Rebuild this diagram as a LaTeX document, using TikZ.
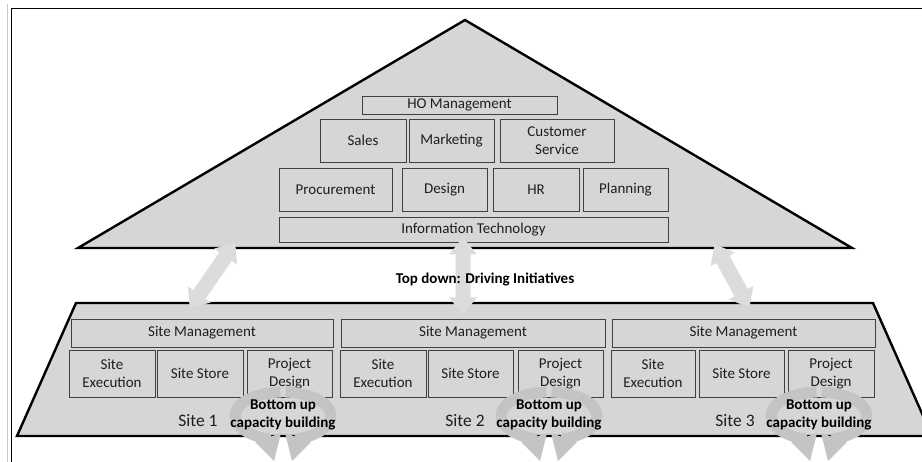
\documentclass[tikz,border=0pt]{standalone}
\usepackage{fontspec}
\setmainfont{Carlito}
\usetikzlibrary{arrows.meta}

\definecolor{shapefill}{HTML}{D6D6D6}
\definecolor{boxline}{HTML}{404040}
\definecolor{blockarrow}{HTML}{DCDCDC}
\definecolor{cyclearrow}{HTML}{C4C4C4}
\definecolor{textcol}{HTML}{1E1E1E}
\definecolor{edgegrey}{HTML}{C8C8C8}

\tikzset{
  unit/.style={draw=boxline, fill=shapefill, line width=0.9pt, inner sep=0pt,
    align=center, text=textcol, font=\fontsize{15}{18.5}\selectfont},
  outline/.style={draw=black, fill=shapefill, line width=2.4pt},
  linkarrow/.style={fill=blockarrow, draw=none},
  cyclearc/.style={draw=cyclearrow, line width=11pt},
  cyclehead/.style={fill=cyclearrow, draw=none},
  boldlabel/.style={font=\bfseries\fontsize{15}{18}\selectfont, align=center, text=black, inner sep=0pt},
  sitelabel/.style={font=\fontsize{17.5}{20}\selectfont, text=textcol, inner sep=0pt},
}

\begin{document}
\begin{tikzpicture}[x=1pt, y=-1pt]
  \useasboundingbox (0,0) rectangle (922,462);
  \clip (0,0) rectangle (922,462);

  % page frame
  \draw[edgegrey, line width=1.5pt] (7.5,4) -- (7.5,470);
  \draw[black, line width=1.3pt] (11.5,470) -- (11.5,8.5) -- (930,8.5);

  % head office pyramid and site platform
  \draw[outline] (465,20) -- (852,248) -- (78,248) -- cycle;
  \draw[outline] (76,303) -- (873,303) -- (932,436) -- (17,436) -- cycle;

  % head office units
  \node[unit, minimum width=195, minimum height=18] (ho) at (459.5,105) {HO Management};
  \node[unit, minimum width=86, minimum height=43] (sales) at (363,140.5) {Sales};
  \node[unit, minimum width=85, minimum height=43] (mkt) at (451.5,140.5) {Marketing};
  \node[unit, minimum width=114, minimum height=43] (cs) at (557,140.5) {Customer\\Service};
  \node[unit, minimum width=113, minimum height=43] (proc) at (335.5,189.5) {Procurement};
  \node[unit, minimum width=85, minimum height=43] (des) at (444.5,189.5) {Design};
  \node[unit, minimum width=86, minimum height=43] (hr) at (536,189.5) {HR};
  \node[unit, minimum width=85, minimum height=43] (plan) at (625.5,189.5) {Planning};
  \node[unit, minimum width=389, minimum height=25] (it) at (473.5,229.5) {Information Technology};

  % site units
  \node[unit, minimum width=262, minimum height=28] (sm1) at (202,333) {Site Management};
  \node[unit, minimum width=86, minimum height=47] (se1) at (112,373.5) {Site\\Execution};
  \node[unit, minimum width=86, minimum height=47] (ss1) at (200,373.5) {Site Store};
  \node[unit, minimum width=85, minimum height=47] (pd1) at (289.5,373.5) {Project\\Design};

  \node[unit, minimum width=264, minimum height=28] (sm2) at (473,333) {Site Management};
  \node[unit, minimum width=86, minimum height=47] (se2) at (383,373.5) {Site\\Execution};
  \node[unit, minimum width=85, minimum height=47] (ss2) at (470.5,373.5) {Site Store};
  \node[unit, minimum width=85, minimum height=47] (pd2) at (560.5,373.5) {Project\\Design};

  \node[unit, minimum width=263, minimum height=28] (sm3) at (743.5,333) {Site Management};
  \node[unit, minimum width=84, minimum height=47] (se3) at (653,373.5) {Site\\Execution};
  \node[unit, minimum width=85, minimum height=47] (ss3) at (741.5,373.5) {Site Store};
  \node[unit, minimum width=86, minimum height=47] (pd3) at (831,373.5) {Project\\Design};

  % two-headed links between head office and sites (centre, angle, length)
  \foreach \mx/\my/\ang/\len in {212.5/275.5/55.3/80, 463/276/90/77, 732/276/118.7/72} {
    \begin{scope}[shift={(\mx,\my)}, rotate=\ang]
      \fill[linkarrow]
        (-\len/2,0) -- (-\len/2+17,14) -- (-\len/2+17,7.5) -- (\len/2-17,7.5)
        -- (\len/2-17,14) -- (\len/2,0) -- (\len/2-17,-14) -- (\len/2-17,-7.5)
        -- (-\len/2+17,-7.5) -- (-\len/2+17,-14) -- cycle;
    \end{scope}
  }

  % site labels
  \node[sitelabel] (site1) at (198,421) {Site 1};
  \node[sitelabel] (site2) at (465,421) {Site 2};
  \node[sitelabel] (site3) at (735,421) {Site 3};

  % bottom-up cycle arrows around each site caption
  \foreach \cx/\nm in {283/cycA, 549/cycB, 819/cycC} {
    \draw[cyclearc] (\cx,416) ++(267:48 and 24)
      arc[start angle=267, end angle=105, x radius=48, y radius=24];
    \draw[cyclearc] (\cx,416) ++(273:48 and 24)
      arc[start angle=273, end angle=435, x radius=48, y radius=24];
    \fill[cyclehead] (\cx-28,442) -- (\cx-2,433) -- (\cx-9,461) -- cycle;
    \fill[cyclehead] (\cx+2,433) -- (\cx+28,442) -- (\cx+9,461) -- cycle;
    \node[boldlabel] (\nm) at (\cx,415) {Bottom up\\capacity building};
  }

  % caption between the levels
  \node[boldlabel] (topdown) at (485,279) {Top down: Driving Initiatives};
\end{tikzpicture}
\end{document}
